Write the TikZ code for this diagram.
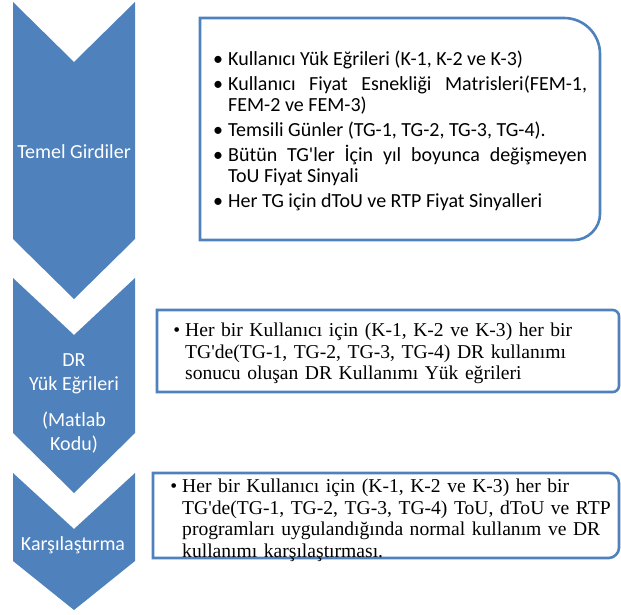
\documentclass[tikz,border=0pt]{standalone}
\usepackage{fontspec}
\usepackage{enumitem}
\setmainfont{Liberation Serif}
\newfontfamily\calibri{Carlito}
\definecolor{ChevBlue}{HTML}{4F81BD}

\begin{document}
\begin{tikzpicture}[x=1pt,y=-1pt,
  chev/.style={fill=ChevBlue},
  chevtext/.style={text=white,font=\calibri\fontsize{20}{24}\selectfont,align=center,inner sep=0pt},
  frame/.style={draw=ChevBlue,line width=2.6pt},
  listtext/.style={anchor=north west,inner sep=0pt,text width=#1}]
\useasboundingbox (0,0) rectangle (621,615);
\fill[chev] (13,2) -- (74,62) -- (135,2) -- (135,239) -- (74,299) -- (13,239) -- cycle;
\fill[chev] (13,278) -- (74,335) -- (135,278) -- (135,433) -- (74,493) -- (13,433) -- cycle;
\fill[chev] (13,473) -- (74,529) -- (135,473) -- (135,561) -- (74,610) -- (13,561) -- cycle;
\node[chevtext] (girdi) at (74,152) {Temel Girdiler};
\node[chevtext] (dryuk) at (74,403) {DR\\Yük Eğrileri\\[12pt](Matlab\\Kodu)};
\node[chevtext] (karsi) at (73,545) {Karşılaştırma};
\draw[frame] (200,240) -- (200,18) -- (564,18) .. controls (584,18) and (600,34) .. (600,54)
  -- (600,214) .. controls (600,228) and (588,240) .. (574,240) -- cycle;
\draw[frame] (157,310) -- (613,310) .. controls (616,310) and (619,313) .. (619,316)
  -- (619,386) .. controls (619,389) and (616,392) .. (613,392) -- (157,392) -- cycle;
\draw[frame] (153,473) -- (609,473) .. controls (614,473) and (619,478) .. (619,483)
  -- (619,548) .. controls (619,553) and (614,558) .. (609,558) -- (153,558) -- cycle;
\node[listtext=372pt,align=justify,font=\calibri\fontsize{20}{21}\selectfont] (girdiler) at (215,44) {%
\begin{itemize}[leftmargin=13pt,labelsep=5pt,itemsep=4pt,topsep=0pt,parsep=0pt,partopsep=0pt,label=\textbullet]
\item Kullanıcı Yük Eğrileri (K-1, K-2 ve K-3)
\item Kullanıcı Fiyat Esnekliği Matrisleri(FEM-1,\linebreak FEM-2 ve FEM-3)
\item Temsili Günler (TG-1, TG-2, TG-3, TG-4).
\item Bütün TG'ler İçin yıl boyunca değişmeyen\linebreak ToU Fiyat Sinyali
\item Her TG için dToU ve RTP Fiyat Sinyalleri
\end{itemize}};
\node[listtext=440pt,align=left,font=\fontsize{19.6}{21.5}\selectfont] (egriler) at (172,315) {%
\begin{itemize}[leftmargin=13pt,labelsep=5pt,topsep=0pt,parsep=0pt,partopsep=0pt,label=\textbullet]
\item Her bir Kullanıcı için (K-1, K-2 ve K-3) her bir\\
TG\textquotesingle de(TG-1, TG-2, TG-3, TG-4) DR kullanımı\\
sonucu oluşan DR Kullanımı Yük eğrileri
\end{itemize}};
\node[listtext=448pt,align=left,font=\fontsize{19.6}{21.5}\selectfont] (karsilas) at (167,471) {%
\begin{itemize}[leftmargin=15pt,labelsep=5pt,topsep=0pt,parsep=0pt,partopsep=0pt,label=\textbullet]
\item Her bir Kullanıcı için (K-1, K-2 ve K-3) her bir\\
TG\textquotesingle de(TG-1, TG-2, TG-3, TG-4) ToU, dToU ve RTP\\
programları uygulandığında normal kullanım ve DR\\
kullanımı karşılaştırması.
\end{itemize}};
\end{tikzpicture}
\end{document}
